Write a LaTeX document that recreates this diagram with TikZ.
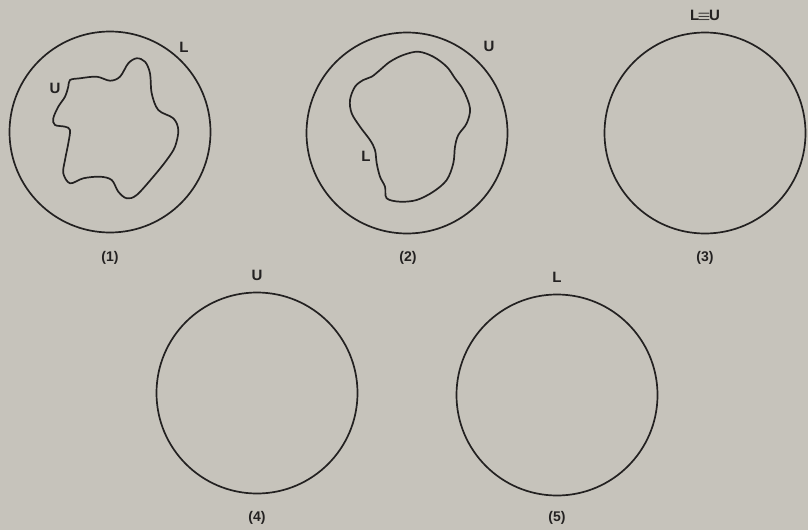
\documentclass[tikz,border=0pt]{standalone}
\usepackage{bm}
\usepackage{fontspec}
\setmainfont{Liberation Sans}
\usepackage{tikz}
\usepackage{xcolor}
\usetikzlibrary{positioning, backgrounds}
\definecolor{paperbg}{RGB}{198,195,187}
\definecolor{inkcolor}{RGB}{35,33,33}

\begin{document}
\begin{tikzpicture}[
  x=1pt, y=-1pt,
  every node/.style={text=inkcolor},
  ring/.style={
    draw=inkcolor, circle, line width=1.7pt,
    minimum size=201pt, inner sep=0pt
  },
  blob/.style={draw=inkcolor, line width=1.7pt},
  setlabel/.style={font=\fontsize{15}{18}\selectfont\bfseries, inner sep=1pt},
  caption/.style={font=\fontsize{14}{17}\selectfont\bfseries, inner sep=1pt},
]

%% ─── Page and background ─────────────────────────────────────────────────────

\fill[paperbg] (0,0) rectangle (808,530);
\useasboundingbox (0,0) rectangle (808,530);

%% ─── Top row of circles ──────────────────────────────────────────────────────

\node[ring] (c1) at (110,132) {};
\node[ring] (c2) at (407,133) {};
\node[ring] (c3) at (705,133) {};

\node[caption] (cap1) at (110,258) {(1)};
\node[caption] (cap2) at (408,258) {(2)};
\node[caption] (cap3) at (705,258) {(3)};

%% ─── Inner curves ────────────────────────────────────────────────────────────

\draw[blob] plot[smooth cycle, tension=0.55] coordinates {
  (70,80) (80,78.3) (96.7,76.7) (110,80.7) (120,76.7) (128.3,63.3)
  (136.7,58.3) (145,61.7) (150,73.3) (151.7,93.3) (158.3,110) (173.3,118.3)
  (178.3,130) (175,146.7) (166.7,160) (153.3,176.7) (136.7,195) (126.7,198.3)
  (118.3,191.7) (111.7,180) (100,176.7) (83.3,178.3) (70,183.3) (63.3,173.3)
  (65,160) (68.3,143.3) (70,130) (65,126.7) (55,125) (53.3,118.3)
  (58.3,106.7) (65,96.7) (68.3,86.7)};

\draw[blob] plot[smooth cycle, tension=0.55] coordinates {
  (418.3,51.7) (433.3,56.7) (446.7,66.7) (455,78.3) (463.3,90) (470,108.3)
  (466.7,123.3) (458.3,135) (455,146.7) (453.3,163.3) (446.7,180) (433.3,191.7)
  (416.7,200) (400,201.7) (386.7,198.3) (385,186.7) (380,176.7) (376.7,163.3)
  (375,150) (370,140) (360,126.7) (351.7,113.3) (350,100) (355,86.7)
  (363.3,80) (371.7,76.7) (380,70) (390,61.7) (403.3,55)};

%% ─── Set labels ──────────────────────────────────────────────────────────────

\node[setlabel] (l1) at (184,47) {L};
\node[setlabel] (u1) at (55,88) {U};
\node[setlabel] (u2) at (489,46) {U};
\node[setlabel] (l2) at (366,156) {L};
\node[setlabel] (lu3) at (705,15) {L\kern-1.5pt$\bm{\equiv}$\kern-1.5pt U};

%% ─── Bottom row of circles ───────────────────────────────────────────────────

\node[ring] (c4) at (257,393) {};
\node[ring] (c5) at (557,395) {};

\node[setlabel] (u4) at (257,275) {U};
\node[setlabel] (l5) at (557,277) {L};

\node[caption] (cap4) at (257,518) {(4)};
\node[caption] (cap5) at (557,518) {(5)};

\end{tikzpicture}
\end{document}
